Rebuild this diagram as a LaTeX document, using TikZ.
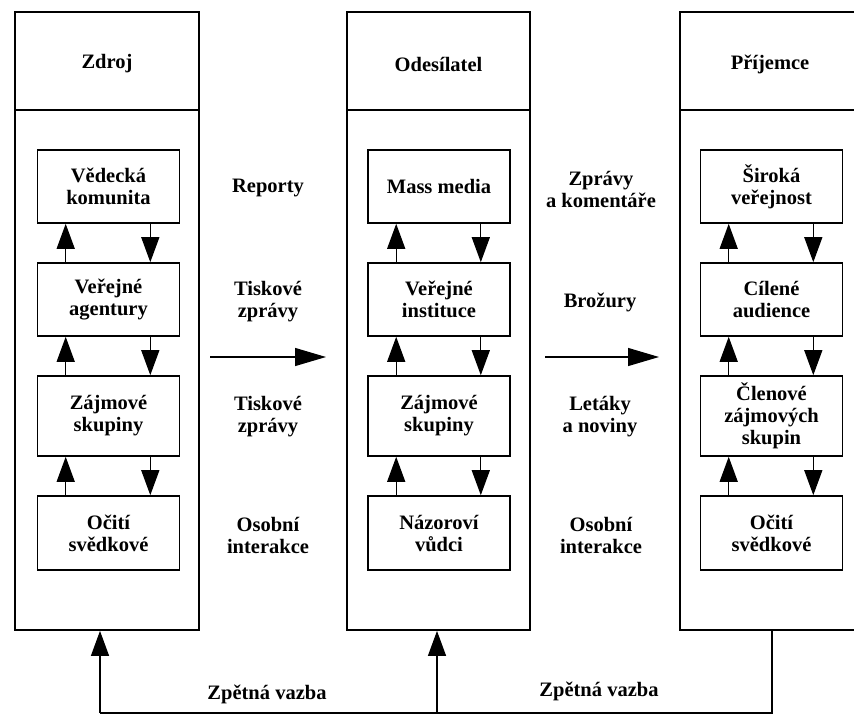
\documentclass[tikz,border=0pt]{standalone}
\usepackage{fontspec}
\setmainfont{Liberation Serif}
\usetikzlibrary{arrows.meta,calc}
\begin{document}
\begin{tikzpicture}[x=1pt,y=-1pt,
  every node/.style={font=\fontsize{20.5}{22}\selectfont\bfseries, align=center, inner sep=0pt},
  colbox/.style={draw, line width=1.8pt, minimum width=#1},
  colbox/.default=184pt,
  inbox/.style={draw, line width=1.6pt, minimum width=142pt, minimum height=#1},
  inbox/.default=73pt,
  vup/.style={line width=1.3pt, -{Triangle[length=25pt,width=18pt]}},
  harr/.style={line width=1.3pt, -{Triangle[length=31pt,width=18pt]}},
  fb/.style={line width=1.3pt},
]
\useasboundingbox (0,0) rectangle (854,715);
\fill[white] (0,0) rectangle (854,715);
\clip (0,0) rectangle (854,715);

% ---- columns ----
\node[colbox, minimum height=98pt] (zh) at (107,61) {};
\node[colbox, minimum height=520pt] (zb) at (107,370) {};
\node[colbox=183pt, minimum height=98pt] (oh) at (438.5,61) {};
\node[colbox=183pt, minimum height=520pt] (ob) at (438.5,370) {};
\node[colbox=182pt, minimum height=98pt] (ph) at (771,61) {};
\node[colbox=182pt, minimum height=520pt] (pb) at (771,370) {};
\node (zt) at (107,64) {Zdroj};
\node (ot) at (438.5,64) {Odesílatel};
\node (pt) at (770,64) {Příjemce};

% ---- inner boxes: left ----
\node[inbox] (a1) at (108.5,186.5) {Vědecká\\komunita};
\node[inbox] (a2) at (108.5,299.5) {Veřejné\\agentury};
\node[inbox=80pt] (a3) at (108.5,416) {Zájmové\\skupiny};
\node[inbox=74pt] (a4) at (108.5,533) {Očití\\svědkové};
% ---- middle ----
\node[inbox] (b1) at (439,186.5) {Mass media};
\node[inbox] (b2) at (439,299.5) {Veřejné\\instituce};
\node[inbox=80pt] (b3) at (439,416) {Zájmové\\skupiny};
\node[inbox=74pt] (b4) at (439,533) {Názoroví\\vůdci};
% ---- right ----
\node[inbox] (c1) at (771.5,186.5) {Široká\\veřejnost};
\node[inbox] (c2) at (771.5,299.5) {Cílené\\audience};
\node[inbox=80pt] (c3) at (771.5,416) {Členové\\zájmových\\skupin};
\node[inbox=74pt] (c4) at (771.5,533) {Očití\\svědkové};

% ---- vertical arrows between inner boxes ----
\foreach \c in {a,b,c}{
  \foreach \u/\l in {1/2,2/3,3/4}{
    \draw[vup] ($(\c\l.north west)+(29,0)$) -- ($(\c\u.south west)+(29,0)$);
    \draw[vup] ($(\c\u.south east)+(-30,0)$) -- ($(\c\l.north east)+(-30,0)$);
  }
}

% ---- labels between columns ----
\node (l1) at (268,188) {Reporty};
\node (l2) at (268,302) {Tiskové\\zprávy};
\node (l3) at (268,417) {Tiskové\\zprávy};
\node (l4) at (268,535) {Osobní\\interakce};
\node (m1) at (601,189) {Zprávy\\a komentáře};
\node (m2) at (600,302) {Brožury};
\node (m3) at (600,417) {Letáky\\a noviny};
\node (m4) at (601,535) {Osobní\\interakce};

% ---- horizontal arrows ----
\coordinate (h1s) at (210,357);
\coordinate (h1e) at (326,357);
\coordinate (h2s) at (545,357);
\coordinate (h2e) at (659,357);
\draw[harr] (h1s) -- (h1e);
\draw[harr] (h2s) -- (h2e);

% ---- feedback ----
\coordinate (fbL) at (100,713);
\coordinate (fbM) at (437,713);
\coordinate (fbR) at (772,713);
\draw[fb] (fbR |- pb.south) -- (fbR) -- (fbL);
\draw[vup] (fbL) -- (fbL |- zb.south);
\draw[vup] (fbM) -- (fbM |- ob.south);
\node (z1) at (267,694) {Zpětná vazba};
\node (z2) at (599,691) {Zpětná vazba};
\end{tikzpicture}
\end{document}
